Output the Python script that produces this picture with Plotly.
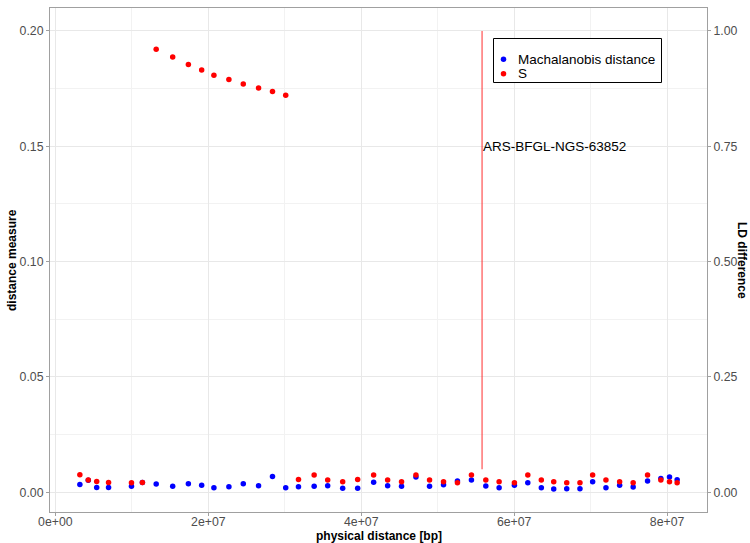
import plotly.graph_objects as go

# SNP positions along the chromosome (bp)
positions = [3.2e6, 4.3e6, 5.4e6, 6.95e6, 9.95e6, 11.38e6, 13.18e6, 15.34e6, 17.39e6,
             19.13e6, 20.73e6, 22.69e6, 24.57e6, 26.57e6, 28.39e6, 30.12e6, 31.79e6,
             33.84e6, 35.61e6, 37.57e6, 39.53e6, 41.62e6, 43.45e6, 45.27e6, 47.15e6,
             48.93e6, 50.76e6, 52.58e6, 54.41e6, 56.29e6, 58.03e6, 60.03e6, 61.78e6,
             63.55e6, 65.17e6, 66.87e6, 68.60e6, 70.26e6, 72.00e6, 73.79e6, 75.56e6,
             77.44e6, 79.18e6, 80.31e6, 81.31e6]

mahalanobis = [0.0034, 0.0052, 0.0021, 0.0021, 0.0026, 0.0043, 0.0036, 0.0026, 0.0037,
               0.0031, 0.0020, 0.0024, 0.0037, 0.0029, 0.0069, 0.0020, 0.0024, 0.0026,
               0.0029, 0.0018, 0.0018, 0.0044, 0.0029, 0.0026, 0.0066, 0.0026, 0.0033,
               0.0049, 0.0053, 0.0027, 0.0020, 0.0031, 0.0042, 0.0020, 0.0014, 0.0016,
               0.0016, 0.0046, 0.0020, 0.0031, 0.0023, 0.0049, 0.0060, 0.0066, 0.0055]

s_values = [0.0076, 0.0053, 0.0047, 0.0043, 0.0042, 0.0043, 0.1921, 0.1887, 0.1854,
            0.1831, 0.1808, 0.1789, 0.1770, 0.1753, 0.1737, 0.1721, 0.0056, 0.0075,
            0.0053, 0.0046, 0.0056, 0.0075, 0.0053, 0.0046, 0.0075, 0.0053, 0.0046,
            0.0042, 0.0075, 0.0053, 0.0046, 0.0042, 0.0075, 0.0053, 0.0046, 0.0042,
            0.0042, 0.0075, 0.0053, 0.0046, 0.0042, 0.0075, 0.0053, 0.0046, 0.0042]

series_names = ["Machalanobis distance", "S"]
series_colors = ["#0000ff", "#ff0000"]

# highlighted marker SNP
marker_name = "ARS-BFGL-NGS-63852"
marker_pos = 5.58e7
marker_span = [0.01, 0.20]
marker_label_y = 0.15

x_ticks = [0, 2e7, 4e7, 6e7, 8e7]
y_ticks = [0.00, 0.05, 0.10, 0.15, 0.20]
ld_ticks = [0.00, 0.25, 0.50, 0.75, 1.00]
ld_scale = 5.0  # LD difference = distance measure * 5

FONT = "Liberation Sans, Arial, sans-serif"
TICK_COL = "#4d4d4d"
GRID = "#e8e8e8"
MINOR_GRID = "#f2f2f2"
BORDER = "#a0a0a0"
PT = 5.5


def expand(lo, hi, f=0.05):
    d = (hi - lo) * f
    return [lo - d, hi + d]


xr = expand(min(positions + [marker_pos]), max(positions + [marker_pos]))
ally = mahalanobis + s_values + marker_span
yr = expand(min(ally), max(ally))

fig = go.Figure()
fig.add_trace(go.Scatter(
    x=[marker_pos, marker_pos], y=marker_span, mode="lines",
    line=dict(color="rgba(255,40,40,0.75)", width=1.3),
    showlegend=False, hoverinfo="skip"))
for name, vals, col in zip(series_names, [mahalanobis, s_values], series_colors):
    fig.add_trace(go.Scatter(
        x=positions, y=vals, mode="markers", name=name, showlegend=False,
        marker=dict(color=col, size=PT)))
fig.add_trace(go.Scatter(
    x=[None], y=[None], yaxis="y2", showlegend=False, hoverinfo="skip"))

fig.add_annotation(x=marker_pos, y=marker_label_y, text=marker_name, showarrow=False,
                   xanchor="left", yanchor="middle", xshift=-1,
                   font=dict(family=FONT, size=13.5, color="black"))

# panel geometry (px)
W, H = 750, 543
L, R, T, B = 50, 43, 8, 31
pw, ph = W - L - R, H - T - B


def px_x(px):
    return (px - L) / pw


def px_y(py):
    return (H - B - py) / ph


# axis titles
fig.add_annotation(xref="paper", yref="paper", x=0.5, y=0, yshift=-24,
                   text="<b>physical distance [bp]</b>", showarrow=False,
                   xanchor="center", yanchor="middle", borderpad=0,
                   font=dict(family=FONT, size=12, color="black"))
fig.add_annotation(xref="paper", yref="paper", x=0, y=0.5, xshift=-38,
                   text="<b>distance measure</b>", showarrow=False, textangle=-90,
                   xanchor="center", yanchor="middle",
                   font=dict(family=FONT, size=12, color="black"))
fig.add_annotation(xref="paper", yref="paper", x=1, y=0.5, xshift=35,
                   text="<b>LD difference</b>", showarrow=False, textangle=90,
                   xanchor="center", yanchor="middle",
                   font=dict(family=FONT, size=12, color="black"))

# legend: frame, keys and labels
fig.add_shape(type="rect", xref="paper", yref="paper",
              x0=px_x(493.5), x1=px_x(661.5), y0=px_y(82.5), y1=px_y(38.5),
              line=dict(color="black", width=1), fillcolor="white", layer="above")
for i, (name, col) in enumerate(zip(series_names, series_colors)):
    cy = px_y(59.3 + 14.4 * i)
    fig.add_shape(type="circle", xref="paper", yref="paper",
                  xsizemode="pixel", ysizemode="pixel",
                  xanchor=px_x(503.5), yanchor=cy,
                  x0=-PT / 2, x1=PT / 2, y0=-PT / 2, y1=PT / 2,
                  fillcolor=col, line=dict(width=0), layer="above")
    fig.add_annotation(xref="paper", yref="paper", x=px_x(515.5), y=cy,
                       text=name, showarrow=False, xanchor="left", yanchor="middle",
                       font=dict(family=FONT, size=13.5, color="black"))

axis_common = dict(showline=True, linecolor=BORDER, linewidth=1, ticks="outside",
                   ticklen=3, tickcolor=BORDER, showgrid=True, gridcolor=GRID,
                   gridwidth=1, zeroline=False,
                   tickfont=dict(family=FONT, size=12.3, color=TICK_COL))

fig.update_layout(
    width=W, height=H,
    margin=dict(l=L, r=R, t=T, b=B),
    plot_bgcolor="white", paper_bgcolor="white",
    font=dict(family=FONT),
    showlegend=False,
    xaxis=dict(range=xr, tickmode="array", tickvals=x_ticks,
               ticktext=[f"{v:.0e}" for v in x_ticks], mirror=True,
               ticklabelstandoff=-5,
               minor=dict(tick0=0, dtick=1e7, showgrid=True, gridcolor=MINOR_GRID,
                          gridwidth=0.6, ticklen=0),
               **axis_common),
    yaxis=dict(range=yr, tickmode="array", tickvals=y_ticks,
               ticktext=[f"{v:.2f}" for v in y_ticks], mirror=True,
               minor=dict(tick0=0, dtick=0.025, showgrid=True, gridcolor=MINOR_GRID,
                          gridwidth=0.6, ticklen=0),
               **axis_common),
    yaxis2=dict(overlaying="y", side="right", range=[v * ld_scale for v in yr],
                tickmode="array", tickvals=ld_ticks,
                ticktext=[f"{v:.2f}" for v in ld_ticks],
                showline=True, linecolor=BORDER, ticks="outside", ticklen=3,
                tickcolor=BORDER, showgrid=False, zeroline=False,
                tickfont=dict(family=FONT, size=12.3, color=TICK_COL)),
)

fig.write_html("out.html")
